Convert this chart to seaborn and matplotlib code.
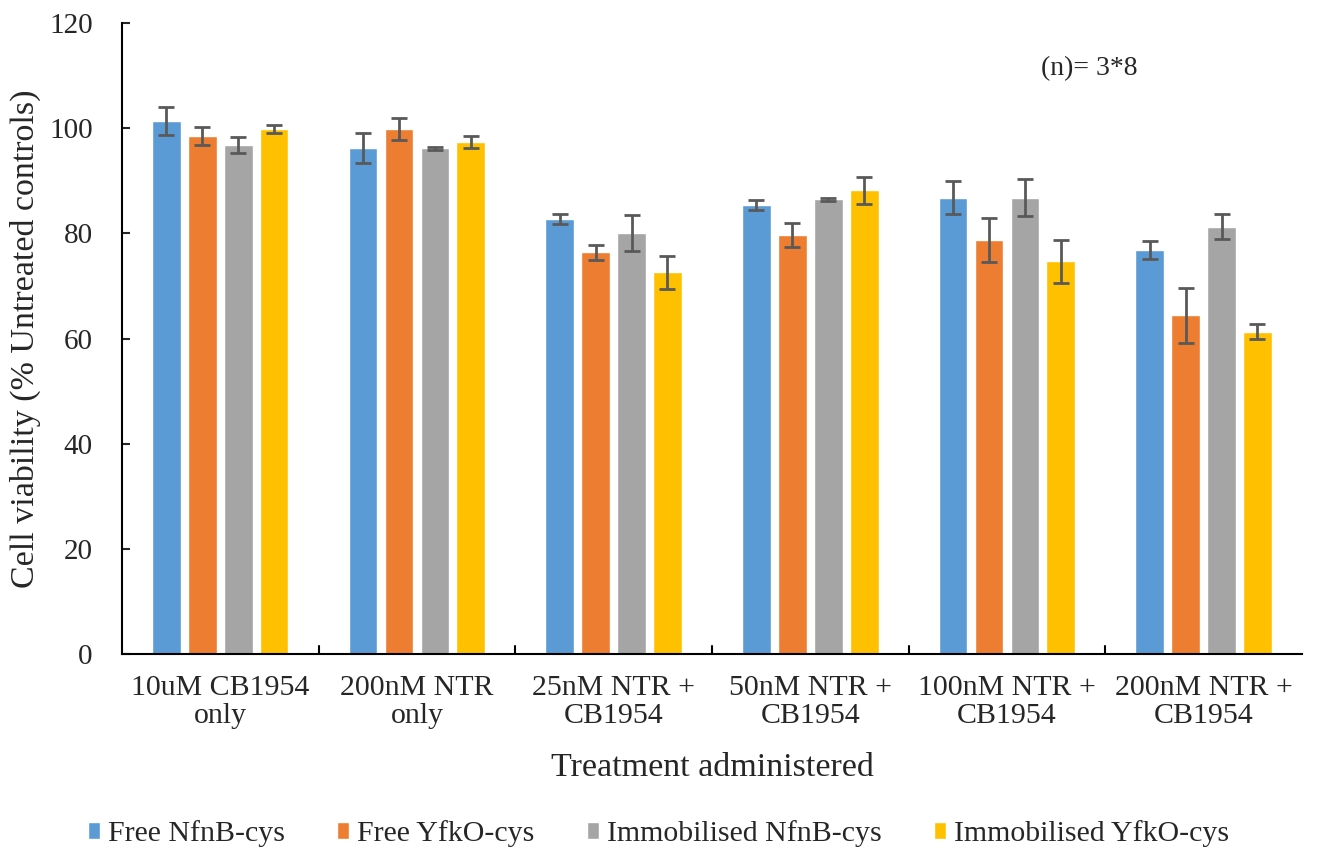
import matplotlib
matplotlib.use("Agg")
import matplotlib.pyplot as plt
import seaborn as sns
import numpy as np
import pandas as pd

treatments = ["10uM CB1954\nonly", "200nM NTR\nonly", "25nM NTR +\nCB1954",
              "50nM NTR +\nCB1954", "100nM NTR +\nCB1954", "200nM NTR +\nCB1954"]
series = ["Free NfnB-cys", "Free YfkO-cys", "Immobilised NfnB-cys", "Immobilised YfkO-cys"]

free_nfnb = [101.4, 96.2, 82.7, 85.4, 86.8, 76.8]
free_yfko = [98.5, 99.8, 76.4, 79.7, 78.7, 64.4]
immob_nfnb = [96.8, 96.2, 80.1, 86.5, 86.8, 81.3]
immob_yfko = [99.8, 97.4, 72.6, 88.2, 74.7, 61.3]

err_free_nfnb = [2.6, 2.9, 1.0, 0.9, 3.1, 1.7]
err_free_yfko = [1.7, 2.1, 1.4, 2.3, 4.2, 5.2]
err_immob_nfnb = [1.6, 0.3, 3.4, 0.3, 3.5, 2.3]
err_immob_yfko = [0.8, 1.2, 3.1, 2.6, 4.1, 1.4]

colors = ["#5B9BD5", "#ED7D31", "#A5A5A5", "#FFC000"]

vals = [free_nfnb, free_yfko, immob_nfnb, immob_yfko]
errs = [err_free_nfnb, err_free_yfko, err_immob_nfnb, err_immob_yfko]

rows = []
for s, v, e in zip(series, vals, errs):
    for t, vi, ei in zip(treatments, v, e):
        rows.append({"Treatment": t, "Series": s, "value": vi, "err": ei})
df = pd.DataFrame(rows)

sns.set_style("white")
plt.rcParams['font.family'] = ['Liberation Serif', 'DejaVu Serif']

fig = plt.figure(figsize=(13.17, 8.47), dpi=100)
ax = fig.add_axes([0.0926, 0.2279, 0.896, 0.7449])

sns.barplot(data=df, x="Treatment", y="value", hue="Series", palette=colors,
            saturation=1, errorbar=None, width=0.73, gap=0.2, ax=ax, legend=True)

# error bars at the bar centres
for cont, e in zip(ax.containers, errs):
    xs = [p.get_x() + p.get_width() / 2 for p in cont.patches]
    hs = [p.get_height() for p in cont.patches]
    ax.errorbar(xs, hs, yerr=e, fmt="none", ecolor="#595959", elinewidth=2,
                capsize=6, capthick=2)

ax.set_ylim(0, 120)
ax.set_xlim(-0.5, len(treatments) - 0.5)
ax.set_yticks(np.arange(0, 121, 20))
ax.set_xticks(np.arange(len(treatments)))
ax.set_xticklabels(treatments, fontsize=21.5, linespacing=1.1)
ax.tick_params(axis="x", length=0, pad=15)
ax.tick_params(axis="y", labelsize=21, direction="in", length=6, width=1.5, pad=21, left=True)
# category boundary ticks on x axis
for b in np.arange(0.5, len(treatments) - 0.5, 1):
    ax.plot([b, b], [0, 1.6], color="black", lw=1.5, clip_on=False)

for side in ["top", "right"]:
    ax.spines[side].set_visible(False)
for side in ["left", "bottom"]:
    ax.spines[side].set_color("black")
    ax.spines[side].set_linewidth(1.5)

ax.set_xlabel("Treatment administered", fontsize=24.5, labelpad=17)
ax.set_ylabel("Cell viability (% Untreated controls)", fontsize=24.5, labelpad=6)

ax.text(4.42, 111.4, "(n)= 3*8", fontsize=20, ha="center", va="center")

ax.legend(loc="lower center", bbox_to_anchor=(0.4547, -0.348), ncol=4, frameon=False,
          fontsize=21.5, handlelength=0.4, handleheight=0.5, handletextpad=0.27,
          columnspacing=1.75)

fig.savefig("out.png", dpi=100)
